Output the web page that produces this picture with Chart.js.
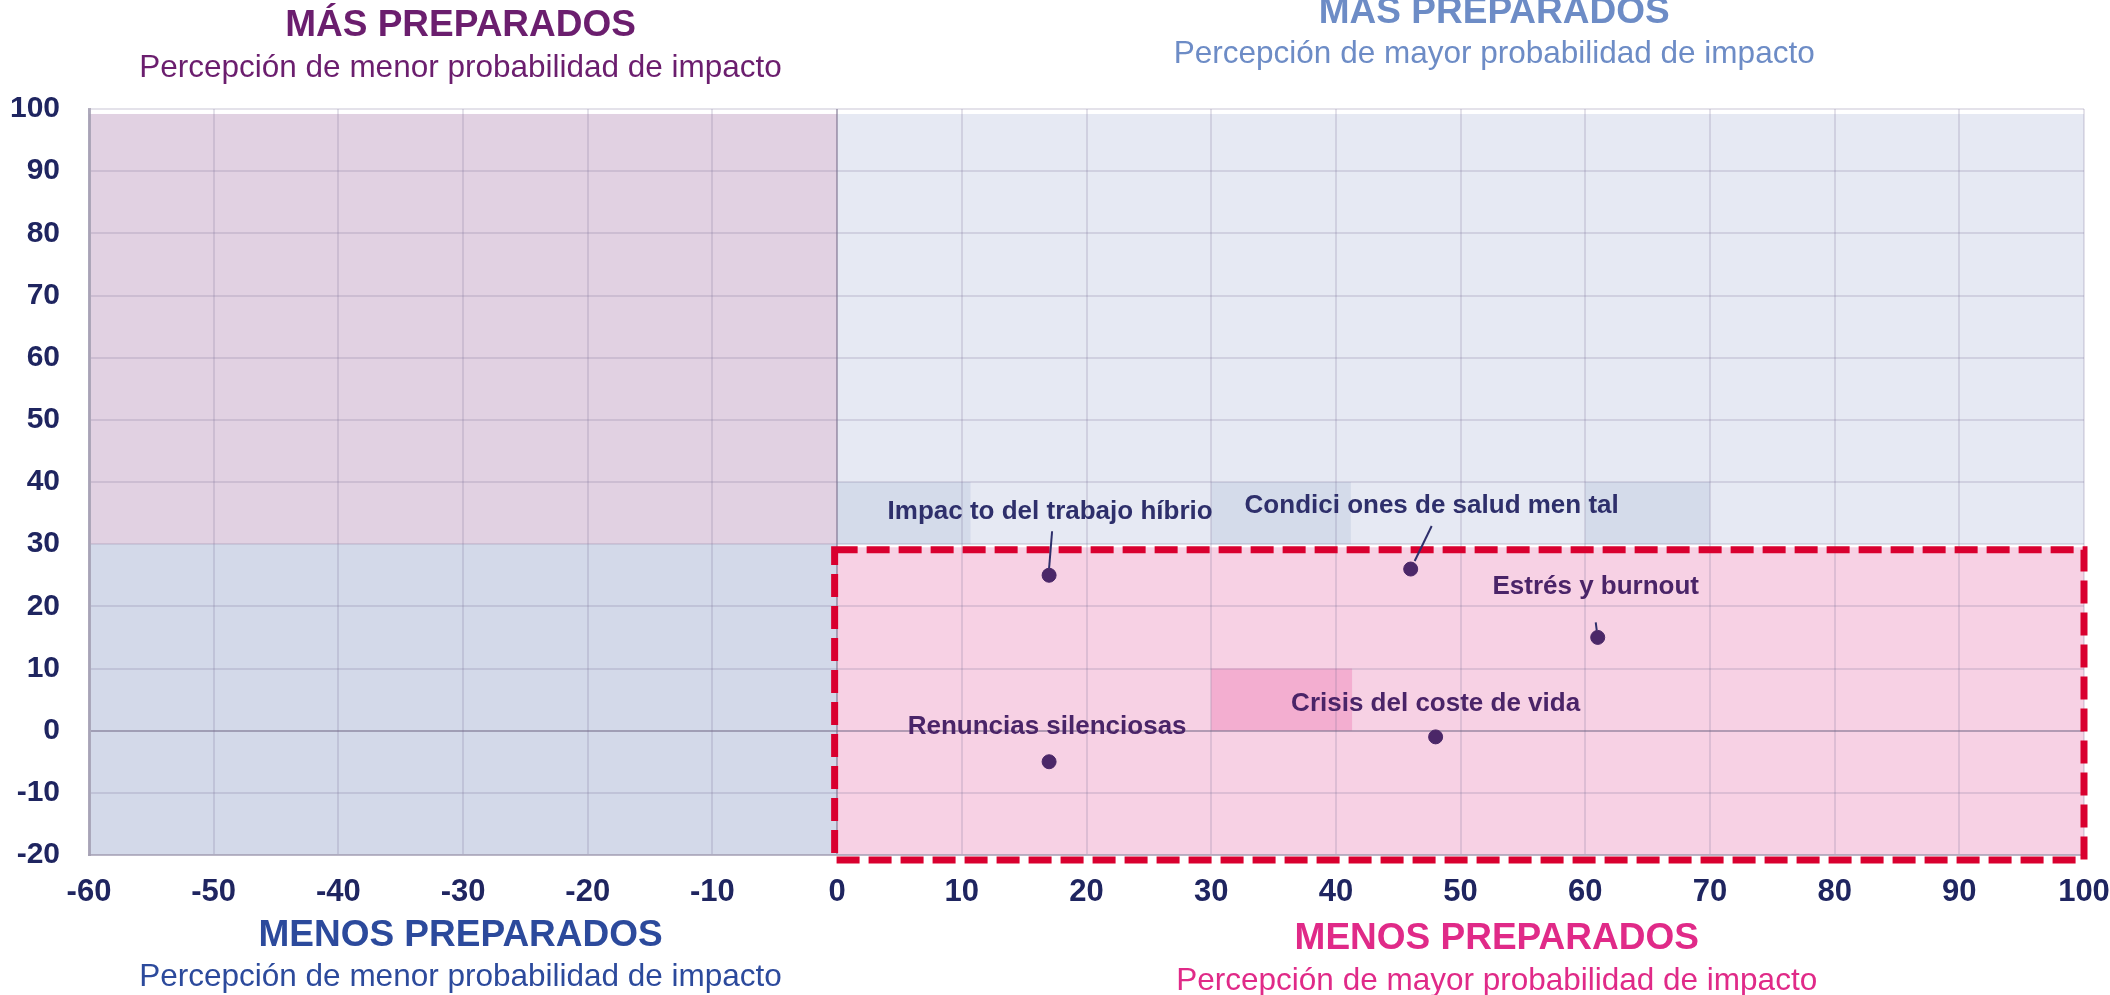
<!DOCTYPE html>
<html>
<head>
<meta charset="utf-8">
<script src="https://cdn.jsdelivr.net/npm/chart.js@4"></script>
<style>
  html, body { margin: 0; padding: 0; background: #ffffff; }
  #wrap { width: 2110px; height: 995px; }
</style>
</head>
<body>
<div id="wrap"><canvas id="matriz" width="2110" height="995"></canvas></div>
<script>
// riesgos (eje x: probabilidad de impacto, eje y: preparación)
var riesgos = ['Impac to del trabajo híbrio', 'Condici ones de salud men tal', 'Estrés y burnout', 'Crisis del coste de vida', 'Renuncias silenciosas'];
var probabilidad = [17, 46, 61, 48, 17];
var preparacion = [25, 26, 15, -1, -5];

// ejes
var xMin = -60, xMax = 100;
var yMin = -20, yMax = 100;

// cuadrantes y zonas resaltadas [x0, x1, y0, y1]
var cuadrantes = [
    [-60, 0, 30, 99.2],
    [-60, 0, -20, 30],
    [0, 100, 30, 99.2],
    [0, 100, -20, 29.5]
];
var zonasAzules = [[0, 10.7, 30, 40], [30, 41.2, 30, 40], [60, 70, 30, 40]];
var zonaRosa = [30, 41.3, 0, 10];
var marcoRojo = [-0.2, 100, -20.8, 29.1];

var FONT = "'Liberation Sans', Arial, sans-serif";
var coloresCuadrantes = ['#e1d1e2', '#d3d9e9', '#e6e9f3', '#f7d1e4'];

// textos de las esquinas
var titulos = [
    { x: -30.2, y: 26, sy: 68, t: 'MÁS PREPARADOS', s: 'Percepción de menor probabilidad de impacto', c: '#6b1e6e' },
    { x: 52.7, y: 13, sy: 54, t: 'MÁS PREPARADOS', s: 'Percepción de mayor probabilidad de impacto', c: '#6d8cc6' },
    { x: -30.2, y: 936, sy: 977, t: 'MENOS PREPARADOS', s: 'Percepción de menor probabilidad de impacto', c: '#2c4a9c' },
    { x: 52.9, y: 939, sy: 981, t: 'MENOS PREPARADOS', s: 'Percepción de mayor probabilidad de impacto', c: '#e02a88' }
];

// posición de las etiquetas respecto al punto (px) y guías
var etiquetas = [
    { dx: 1, dy: -63, c: '#2e2f6b', linea: [3, -44, 0, -7] },
    { dx: 21, dy: -63, c: '#2e2f6b', linea: [21, -43, 4, -8] },
    { dx: -2, dy: -51, c: '#4a2468', linea: [-2, -15, -1, -7] },
    { dx: 0, dy: -33, c: '#4a2468', linea: null },
    { dx: -2, dy: -35, c: '#4a2468', linea: null }
];

function rect(xs, ys, r) {
    var x0 = xs.getPixelForValue(r[0]), x1 = xs.getPixelForValue(r[1]);
    var y0 = ys.getPixelForValue(r[3]), y1 = ys.getPixelForValue(r[2]);
    return [x0, y0, x1 - x0, y1 - y0];
}

var fondo = {
    id: 'fondo',
    beforeDraw: function (chart) {
        var ctx = chart.ctx, xs = chart.scales.x, ys = chart.scales.y;
        ctx.save();
        cuadrantes.forEach(function (q, i) {
            var r = rect(xs, ys, q);
            ctx.fillStyle = coloresCuadrantes[i];
            ctx.fillRect(r[0], r[1], r[2], r[3]);
        });
        zonasAzules.forEach(function (q) {
            var r = rect(xs, ys, q);
            ctx.fillStyle = '#d4dbea';
            ctx.fillRect(r[0], r[1], r[2], r[3]);
        });
        var p = rect(xs, ys, zonaRosa);
        ctx.fillStyle = '#f3aed0';
        ctx.fillRect(p[0], p[1], p[2], p[3]);
        ctx.restore();
    },
    afterDraw: function (chart) {
        var ctx = chart.ctx, xs = chart.scales.x, ys = chart.scales.y;
        ctx.save();
        // marco rojo discontinuo
        var m = rect(xs, ys, marcoRojo);
        ctx.strokeStyle = '#d9002f';
        ctx.lineWidth = 7;
        ctx.setLineDash([23, 9]);
        ctx.strokeRect(m[0], m[1], m[2], m[3]);
        ctx.setLineDash([]);

        // etiquetas de los riesgos
        ctx.textAlign = 'center';
        ctx.textBaseline = 'middle';
        ctx.font = 'bold 26px ' + FONT;
        riesgos.forEach(function (nombre, i) {
            var px = xs.getPixelForValue(probabilidad[i]);
            var py = ys.getPixelForValue(preparacion[i]);
            var e = etiquetas[i];
            ctx.fillStyle = e.c;
            ctx.fillText(nombre, px + e.dx, py + e.dy);
            if (e.linea) {
                ctx.strokeStyle = '#2e2f6b';
                ctx.lineWidth = 2;
                ctx.beginPath();
                ctx.moveTo(px + e.linea[0], py + e.linea[1]);
                ctx.lineTo(px + e.linea[2], py + e.linea[3]);
                ctx.stroke();
            }
        });

        // títulos de las esquinas
        titulos.forEach(function (t) {
            var cx = xs.getPixelForValue(t.x);
            ctx.fillStyle = t.c;
            ctx.font = 'bold 37px ' + FONT;
            ctx.fillText(t.t, cx, t.y);
            ctx.font = '31.5px ' + FONT;
            ctx.fillText(t.s, cx, t.sy);
        });
        ctx.restore();
    }
};

function colorRejilla(c) {
    return c.tick && c.tick.value === 0 ? 'rgba(110,100,130,0.5)' : 'rgba(120,110,150,0.2)';
}

var ctx = document.getElementById('matriz').getContext('2d');
var chart = new Chart(ctx, {
    type: 'scatter',
    data: {
        datasets: [{
            data: probabilidad.map(function (x, i) { return { x: x, y: preparacion[i] }; }),
            backgroundColor: '#4b2768',
            borderColor: '#4b2768',
            pointRadius: 7,
            pointHoverRadius: 7
        }]
    },
    plugins: [fondo],
    options: {
        responsive: false,
        animation: false,
        devicePixelRatio: 1,
        layout: { padding: { top: 109, right: 26, bottom: 0, left: 0 } },
        plugins: {
            legend: { display: false },
            tooltip: { enabled: false }
        },
        scales: {
            x: {
                type: 'linear',
                min: xMin,
                max: xMax,
                afterFit: function (s) { s.height = 140; s.paddingLeft = 0; s.paddingRight = 0; },
                grid: { color: colorRejilla, lineWidth: 2, drawTicks: false },
                border: { display: true, color: 'rgba(160,155,175,0.6)', width: 2 },
                ticks: {
                    stepSize: 10,
                    padding: 19,
                    color: '#1f2560',
                    font: { family: FONT, size: 31, weight: 'bold' }
                }
            },
            y: {
                type: 'linear',
                min: yMin,
                max: yMax,
                afterFit: function (s) { s.width = 89; s.paddingTop = 0; s.paddingBottom = 0; },
                grid: { color: colorRejilla, lineWidth: 2, drawTicks: false },
                border: { display: true, color: 'rgba(160,155,175,0.8)', width: 3 },
                ticks: {
                    stepSize: 10,
                    padding: 29,
                    color: '#1f2560',
                    font: { family: FONT, size: 30, weight: 'bold' }
                }
            }
        }
    }
});
</script>
</body>
</html>
